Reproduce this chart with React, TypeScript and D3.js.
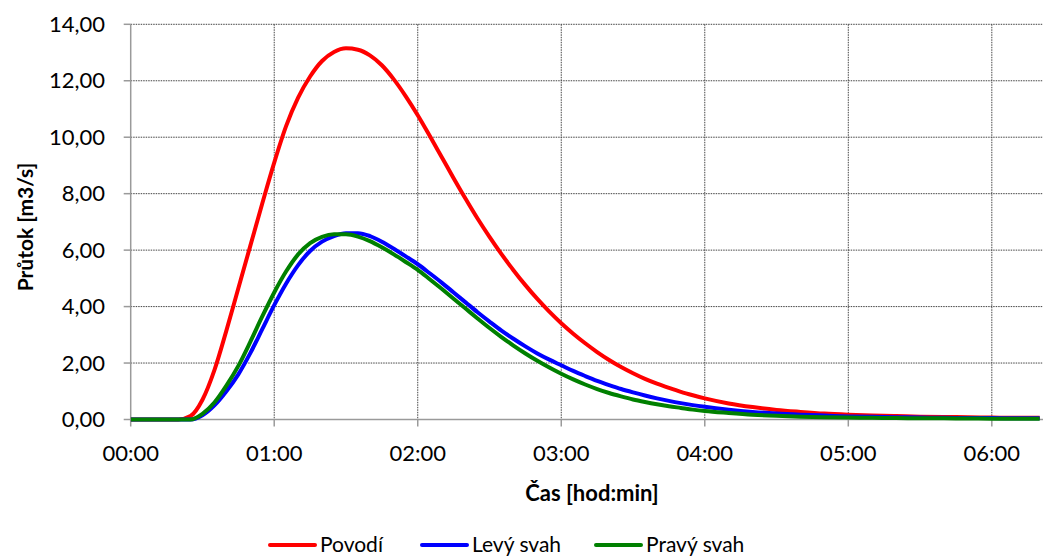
import React from "react";
import * as d3 from "d3";

const minutes = [0, 5, 10, 15, 20, 25, 30, 35, 40, 45, 50, 55, 60, 65, 70, 75, 80, 85, 90, 95, 100, 105, 110, 115, 120, 125, 130, 135, 140, 145, 150, 155, 160, 165, 170, 175, 180, 185, 190, 195, 200, 205, 210, 215, 220, 225, 230, 235, 240, 250, 260, 270, 280, 290, 300, 310, 320, 330, 340, 350, 360, 370, 380];

const povodi = [0, 0, 0, 0, 0, 0.12, 0.7, 1.75, 3.15, 4.65, 6.15, 7.65, 9.1, 10.4, 11.4, 12.15, 12.7, 13.02, 13.15, 13.1, 12.9, 12.55, 12.05, 11.45, 10.78, 10.05, 9.3, 8.55, 7.82, 7.12, 6.47, 5.86, 5.29, 4.76, 4.27, 3.82, 3.41, 3.04, 2.7, 2.39, 2.11, 1.86, 1.64, 1.44, 1.27, 1.12, 0.98, 0.86, 0.75, 0.57, 0.44, 0.34, 0.27, 0.21, 0.17, 0.14, 0.12, 0.1, 0.09, 0.08, 0.07, 0.06, 0.06];

const levySvah = [0, 0, 0, 0, 0, 0, 0.15, 0.5, 1.0, 1.6, 2.35, 3.2, 4.05, 4.82, 5.47, 5.97, 6.3, 6.5, 6.6, 6.6, 6.5, 6.3, 6.05, 5.78, 5.5, 5.18, 4.85, 4.5, 4.15, 3.8, 3.47, 3.15, 2.86, 2.59, 2.34, 2.12, 1.92, 1.72, 1.54, 1.37, 1.22, 1.08, 0.96, 0.85, 0.75, 0.66, 0.58, 0.51, 0.45, 0.35, 0.27, 0.21, 0.17, 0.14, 0.11, 0.095, 0.08, 0.07, 0.06, 0.055, 0.05, 0.045, 0.04];

const pravySvah = [0, 0, 0, 0, 0, 0, 0.2, 0.6, 1.2, 1.9, 2.75, 3.65, 4.5, 5.25, 5.85, 6.25, 6.47, 6.56, 6.56, 6.48, 6.32, 6.1, 5.85, 5.58, 5.3, 4.97, 4.63, 4.28, 3.93, 3.58, 3.24, 2.92, 2.62, 2.34, 2.08, 1.84, 1.62, 1.42, 1.24, 1.08, 0.94, 0.82, 0.71, 0.62, 0.54, 0.47, 0.41, 0.35, 0.3, 0.23, 0.17, 0.13, 0.1, 0.08, 0.07, 0.06, 0.05, 0.045, 0.04, 0.035, 0.03, 0.03, 0.03];

const xTickMinutes = [0, 60, 120, 180, 240, 300, 360];
const xTickLabels = ["00:00", "01:00", "02:00", "03:00", "04:00", "05:00", "06:00"];
const yTicks = [0, 2, 4, 6, 8, 10, 12, 14];
const yTickLabels = ["0,00", "2,00", "4,00", "6,00", "8,00", "10,00", "12,00", "14,00"];

const seriesNames = ["Povodí", "Levý svah", "Pravý svah"];
const seriesColors = ["#ff0000", "#0000ff", "#008000"];
const seriesValues = [povodi, levySvah, pravySvah];

const W = 1043;
const H = 558;
const left = 130.7;
const top = 24.3;
const bottom = 419.5;
const pxPerMin = 2.392;
const xMax = 384;

export default function App() {
  const x = d3.scaleLinear().domain([0, xMax]).range([left, left + xMax * pxPerMin]);
  const y = d3.scaleLinear().domain([0, 14]).range([bottom, top]);
  const font = "Lato, 'Open Sans', sans-serif";

  const line = (vals: number[]) =>
    d3
      .line<number>()
      .x((_, i) => x(minutes[i]))
      .y((v) => y(v))
      .curve(d3.curveMonotoneX)(vals) as string;

  const legendX = [270, 422, 596];

  return (
    <svg
      width={W}
      height={H}
      style={{ position: "absolute", left: 0, top: 0, background: "#fff" }}
      fontFamily={font}
    >
      <defs>
        <clipPath id="plotclip">
          <rect x={left} y={0} width={W - left} height={bottom + 5} />
        </clipPath>
      </defs>
      {yTicks.slice(1).map((t) => (
        <line
          key={"gy" + t}
          x1={left}
          x2={W}
          y1={y(t)}
          y2={y(t)}
          stroke="#444"
          strokeWidth={1}
          strokeDasharray="1.5,1"
        />
      ))}
      {xTickMinutes.slice(1).map((t) => (
        <line
          key={"gx" + t}
          x1={x(t)}
          x2={x(t)}
          y1={top}
          y2={bottom}
          stroke="#444"
          strokeWidth={1}
          strokeDasharray="1.5,1"
        />
      ))}
      <line x1={left} x2={left} y1={top} y2={bottom} stroke="#9a9a9a" strokeWidth={1.5} />
      <line x1={left} x2={W} y1={bottom} y2={bottom} stroke="#9a9a9a" strokeWidth={1.5} />
      {yTicks.map((t) => (
        <line key={"ty" + t} x1={left - 7} x2={left} y1={y(t)} y2={y(t)} stroke="#9a9a9a" strokeWidth={1.5} />
      ))}
      {xTickMinutes.map((t) => (
        <line key={"tx" + t} x1={x(t)} x2={x(t)} y1={bottom} y2={bottom + 7} stroke="#9a9a9a" strokeWidth={1.5} />
      ))}
      {yTicks.map((t, i) => (
        <text
          key={"ly" + t}
          x={105}
          y={y(t)}
          dy="0.35em"
          textAnchor="end"
          fontSize={22}
          fill="#000"
        >
          {yTickLabels[i]}
        </text>
      ))}
      {xTickMinutes.map((t, i) => (
        <text
          key={"lx" + t}
          x={x(t)}
          y={453}
          dy="0.35em"
          textAnchor="middle"
          fontSize={22}
          fill="#000"
        >
          {xTickLabels[i]}
        </text>
      ))}
      <g clipPath="url(#plotclip)">
        {seriesValues.map((vals, i) => (
          <path
            key={seriesNames[i]}
            d={line(vals)}
            fill="none"
            stroke={seriesColors[i]}
            strokeWidth={4}
            strokeLinejoin="round"
          />
        ))}
      </g>
      <text
        transform={`translate(26, 227) rotate(-90)`}
        textAnchor="middle"
        dy="0.35em"
        fontSize={21}
        fontWeight="bold"
      >
        Průtok [m3/s]
      </text>
      <text x={592} y={493} dy="0.35em" textAnchor="middle" fontSize={22} fontWeight="bold">
        Čas [hod:min]
      </text>
      {seriesNames.map((n, i) => (
        <g key={"leg" + n}>
          <line
            x1={legendX[i]}
            x2={legendX[i] + 45}
            y1={545}
            y2={545}
            stroke={seriesColors[i]}
            strokeWidth={4}
            strokeLinecap="round"
          />
          <text x={legendX[i] + 50} y={545} dy="0.35em" fontSize={21}>
            {n}
          </text>
        </g>
      ))}
    </svg>
  );
}
